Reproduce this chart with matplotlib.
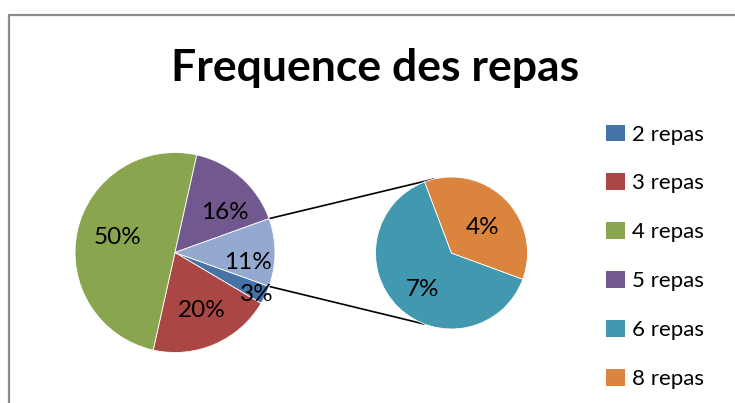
import matplotlib
matplotlib.use("Agg")
import matplotlib.pyplot as plt
from matplotlib.patches import Patch
import numpy as np

# ---------------- data ----------------
title = "Frequence des repas"
main_labels = ["2 repas", "3 repas", "4 repas", "5 repas", "Autres"]
main_values = [3, 20, 50, 16, 11]
sub_labels = ["6 repas", "8 repas"]
sub_values = [7, 4]
legend_labels = ["2 repas", "3 repas", "4 repas", "5 repas", "6 repas", "8 repas"]

# ---------------- style ----------------
colors = {
    "2 repas": "#4572A7",
    "3 repas": "#AA4643",
    "4 repas": "#89A54E",
    "5 repas": "#71588F",
    "Autres": "#93A9CF",
    "6 repas": "#4198AF",
    "8 repas": "#DB843D",
}
FONT = "Lato"
W, H = 735, 403
main_center, main_r = (175, H - 252.5), 100
sub_center, sub_r = (451.5, H - 253), 76
sub_start = -20.2
main_label_dist = [0.92, 0.64, 0.59, 0.64, 0.74]
main_label_rot = [-2.2, 1.8, -2.0, -9.6, -7.4]
sub_label_dist = [0.61, 0.52]
sub_label_rot = [6.8, -5.9]
conn_sub_angles = [103, 249.5]

fig = plt.figure(figsize=(W / 100, H / 100), dpi=100)
ax = fig.add_axes([0, 0, 1, 1])

total = sum(main_values)
other_frac = main_values[-1] / total
main_start = -other_frac * 360 / 2

wedges, _ = ax.pie(main_values, colors=[colors[l] for l in main_labels],
                   startangle=main_start, counterclock=False,
                   center=main_center, radius=main_r,
                   wedgeprops=dict(edgecolor="white", linewidth=0.6))
sub_w, _ = ax.pie(sub_values, colors=[colors[l] for l in sub_labels],
                  startangle=sub_start, counterclock=False,
                  center=sub_center, radius=sub_r,
                  wedgeprops=dict(edgecolor="white", linewidth=0.6))


def put_labels(ws, vals, center, r, dists, rots):
    for w, v, d, rot in zip(ws, vals, dists, rots):
        th = np.deg2rad((w.theta1 + w.theta2) / 2 + rot)
        ax.text(center[0] + d * r * np.cos(th), center[1] + d * r * np.sin(th),
                f"{v}%", ha="center", va="center", fontsize=17.5,
                family=FONT, color="black")


put_labels(wedges, main_values, main_center, main_r, main_label_dist, main_label_rot)
put_labels(sub_w, sub_values, sub_center, sub_r, sub_label_dist, sub_label_rot)

# connector lines
ow = wedges[-1]
for a_main, a_sub in zip([ow.theta2, ow.theta1], conn_sub_angles):
    p1 = (main_center[0] + main_r * np.cos(np.deg2rad(a_main)),
          main_center[1] + main_r * np.sin(np.deg2rad(a_main)))
    p2 = (sub_center[0] + sub_r * np.cos(np.deg2rad(a_sub)),
          sub_center[1] + sub_r * np.sin(np.deg2rad(a_sub)))
    ax.plot([p1[0], p2[0]], [p1[1], p2[1]], color="black", lw=1.2,
            solid_capstyle="butt", zorder=0)

ax.set_xlim(0, W)
ax.set_ylim(0, H)
ax.set_aspect("equal")
ax.axis("off")

# chart border (left and top edges visible)
ax.plot([9, 9, W + 5], [-5, H - 15, H - 15], color="#8C8C8C", lw=1.6,
        clip_on=False)

ax.text(375, H - 68, title, ha="center", va="center", fontsize=32,
        fontweight="bold", family=FONT, color="black")

handles = [Patch(facecolor=colors[l], edgecolor="none") for l in legend_labels]
leg = ax.legend(handles, legend_labels, loc="upper left",
                bbox_to_anchor=(606 / W, 1 - 124.5 / H), frameon=False,
                prop=dict(family=FONT, size=16), handlelength=0.86,
                handleheight=0.77, handletextpad=0.33, labelspacing=1.3,
                borderpad=0, borderaxespad=0)

fig.savefig("out.png", dpi=100)
